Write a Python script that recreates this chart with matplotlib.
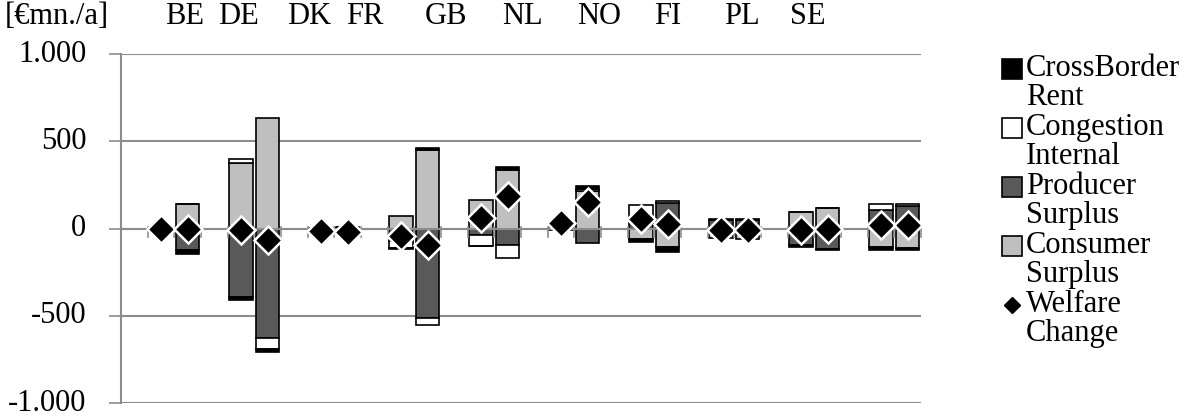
import numpy as np
import matplotlib
matplotlib.use('Agg')
import matplotlib.pyplot as plt
from matplotlib.patches import Rectangle
from matplotlib.lines import Line2D

plt.rcParams['font.family'] = ['Liberation Serif', 'DejaVu Serif']

countries = ['BE', 'DE', 'DK', 'FR', 'GB', 'NL', 'NO', 'FI', 'PL', 'SE']

# two scenarios per country, in country order
consumer = [12, 144, 375, 632, 6, 8, 75, 452, 162, 334,
            25, 215, -62, -105, -55, -60, 95, 118, -105, -108]
producer = [-10, -125, -390, -625, -12, -15, -70, -512, -35, -92,
            -5, -85, 45, 145, 50, 52, -95, -115, 109, 128]
congestion = [0, 0, 22, -64, 0, 0, -42, -40, -65, -76,
              0, 12, 88, 15, 0, 0, 0, 0, 34, 12]
crossborder = [-2, -19, -20, -18, -6, -10, -3, 8, -2, 20,
               15, 15, -12, -28, 5, 5, -10, -5, -19, -12]
welfare = [0, 0, -5, -67, -12, -18, -40, -92, 60, 185,
           35, 155, 55, 29, -5, -8, -6, -2, 23, 22]

series = [
    (consumer, '#bfbfbf'),
    (producer, '#595959'),
    (congestion, 'white'),
    (crossborder, 'black'),
]

# 3 slots per country: empty gap, scenario 1, scenario 2
x = np.array([3 * i + 1 + j + 0.5 for i in range(len(countries)) for j in range(2)])

W, H = 1191, 416
fig = plt.figure(figsize=(W / 100, H / 100), dpi=100)
ax = fig.add_axes([121 / W, (H - 403.3) / H, 800 / W, (403.3 - 54) / H])

# stacked bars, positives up and negatives down from zero
pos = np.zeros(len(x))
neg = np.zeros(len(x))
for vals, c in series:
    v = np.array(vals, dtype=float)
    bottom = np.where(v >= 0, pos, neg)
    ax.bar(x, v, width=0.88, bottom=bottom, color=c,
           edgecolor='black', linewidth=1.2, zorder=3)
    pos = pos + np.where(v > 0, v, 0)
    neg = neg + np.where(v < 0, v, 0)

ax.axhline(0, color='#8c8c8c', lw=1.5, zorder=4)
ax.plot(x, welfare, ls='none', marker='D', ms=14.5, mfc='black',
        mec='white', mew=1.8, zorder=5)

# x tick marks on the zero line between slots
for k in range(1, 31):
    ax.plot([k, k], [-45, 10], color='#8c8c8c', lw=1.2, zorder=4,
            clip_on=False)

ax.set_xlim(0, 30)
ax.set_ylim(-1000, 1000)
ax.set_xticks([])
ax.set_yticks([-1000, -500, 0, 500, 1000])
ax.set_yticklabels(['-1.000', '-500', '0', '500', '1.000'], va='center')
ax.tick_params(axis='y', length=9, width=1.2, color='#8c8c8c',
               labelsize=22, pad=16)
ax.grid(axis='y', color='#8c8c8c', lw=1.5, zorder=0)
for s in ['top', 'right', 'bottom']:
    ax.spines[s].set_visible(False)
ax.spines['left'].set_color('#8c8c8c')
ax.spines['left'].set_linewidth(1.5)

# header texts
fig.text(5 / W, 1 - 17 / H, '[€mn./a]', fontsize=22, va='center', ha='left')
lab_x = [165, 218, 287, 346, 425, 502, 577, 654, 724, 790]
for lx, c in zip(lab_x, countries):
    fig.text(lx / W, 1 - 17 / H, c, fontsize=22, va='center', ha='left')

# legend by hand, marker sits on the first text line
leg_items = [
    ('CrossBorder\nRent', 'black'),
    ('Congestion\nInternal', 'white'),
    ('Producer\nSurplus', '#595959'),
    ('Consumer\nSurplus', '#bfbfbf'),
    ('Welfare\nChange', None),
]
for k, (lab, c) in enumerate(leg_items):
    yc = 69 + 59 * k
    if c is None:
        fig.lines.append(Line2D([1012 / W], [1 - yc / H],
                                transform=fig.transFigure, ls='none',
                                marker='D', ms=8, color='black'))
    else:
        fig.patches.append(Rectangle(
            (1002 / W, 1 - (yc + 10) / H), 20 / W, 20 / H,
            transform=fig.transFigure, facecolor=c, edgecolor='black', lw=1.2))
    fig.text(1026 / W, 1 - (yc - 15) / H, lab, fontsize=22, va='top',
             ha='left', linespacing=1.0)

fig.savefig('out.png', dpi=100)
